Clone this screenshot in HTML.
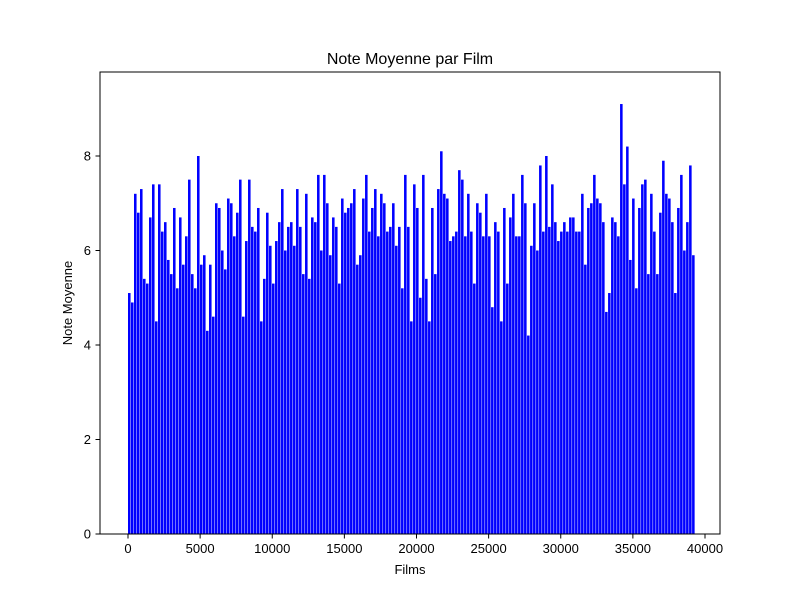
<!DOCTYPE html>
<html><head><meta charset="utf-8"><style>
body{margin:0;background:#fff;}
svg text{font-family:"Liberation Sans","DejaVu Sans",sans-serif;fill:#000;}
</style></head><body>
<svg id="chart" width="800" height="600" xmlns="http://www.w3.org/2000/svg">
<rect width="800" height="600" fill="#fff"/>
<g id="bars"></g>
<rect x="100" y="72" width="620" height="462" fill="none" stroke="#000" stroke-width="1"/>
<g id="axes"></g>
<text x="410" y="64" text-anchor="middle" font-size="16">Note Moyenne par Film</text>
<text x="410" y="574" text-anchor="middle" font-size="13">Films</text>
<text x="72" y="303" text-anchor="middle" font-size="13" transform="rotate(-90 72 303)">Note Moyenne</text>
</svg>
<script>
const filmStep = 208;
const ratings = [5.1,4.9,7.2,6.8,7.3,5.4,5.3,6.7,7.4,4.5,7.4,6.4,6.6,5.8,5.5,6.9,5.2,6.7,5.7,6.3,7.5,5.5,5.2,8.0,5.7,5.9,4.3,5.7,4.6,7.0,6.9,6.0,5.6,7.1,7.0,6.3,6.8,7.5,4.6,6.2,7.5,6.5,6.4,6.9,4.5,5.4,6.8,6.1,5.3,6.2,6.6,7.3,6.0,6.5,6.6,6.1,7.3,6.5,5.5,7.2,5.4,6.7,6.6,7.6,6.0,7.6,7.0,5.9,6.7,6.5,5.3,7.1,6.8,6.9,7.0,7.3,5.7,5.9,7.1,7.6,6.4,6.9,7.3,6.3,7.2,7.0,6.4,6.5,7.0,6.1,6.5,5.2,7.6,6.5,4.5,
7.4,6.9,5.0,7.6,5.4,4.5,6.9,5.5,7.3,8.1,7.2,7.1,6.2,6.3,6.4,7.7,7.5,6.3,7.2,6.4,5.3,7.0,6.8,6.3,7.2,6.3,4.8,6.6,6.4,4.5,6.9,5.3,6.7,7.2,6.3,6.3,7.6,7.0,4.2,6.1,7.0,6.0,7.8,6.4,8.0,6.5,7.4,6.6,6.2,6.4,6.6,6.4,6.7,6.7,6.4,6.4,7.2,5.7,6.9,7.0,7.6,7.1,7.0,6.6,4.7,5.1,6.7,6.6,6.3,9.1,7.4,8.2,5.8,7.1,5.2,6.9,7.4,7.5,5.5,7.2,6.4,5.5,6.8,7.9,7.2,7.1,6.6,5.1,6.9,7.6,6.0,6.6,7.8,5.9];
const xTicks = [0,5000,10000,15000,20000,25000,30000,35000,40000];
const yTicks = [0,2,4,6,8];
const xScale = v => 128 + v * 0.014425;
const yScale = v => 534 - v * 47.25;
const NS = "http://www.w3.org/2000/svg";
const bars = document.getElementById('bars');
const axes = document.getElementById('axes');
ratings.forEach((r, i) => {
  const id = i * filmStep;
  const rect = document.createElementNS(NS, 'rect');
  const x0 = xScale(id), x1 = xScale(id + filmStep);
  rect.setAttribute('x', x0);
  rect.setAttribute('width', (x1 - x0) * 0.85);
  rect.setAttribute('y', yScale(r));
  rect.setAttribute('height', yScale(0) - yScale(r));
  rect.setAttribute('fill', '#0000ff');
  
  
  bars.appendChild(rect);
});
xTicks.forEach(t => {
  const x = xScale(t);
  const l = document.createElementNS(NS, 'line');
  l.setAttribute('x1', x); l.setAttribute('x2', x);
  l.setAttribute('y1', 534); l.setAttribute('y2', 538.5);
  l.setAttribute('stroke', '#000');
  
  
  axes.appendChild(l);
  const tx = document.createElementNS(NS, 'text');
  tx.setAttribute('x', x); tx.setAttribute('y', 553);
  tx.setAttribute('text-anchor', 'middle'); tx.setAttribute('font-size', '13');
  tx.textContent = t;
  
  
  axes.appendChild(tx);
});
yTicks.forEach(t => {
  const y = yScale(t);
  const l = document.createElementNS(NS, 'line');
  l.setAttribute('x1', 95.5); l.setAttribute('x2', 100);
  l.setAttribute('y1', y); l.setAttribute('y2', y);
  l.setAttribute('stroke', '#000');
  
  
  axes.appendChild(l);
  const tx = document.createElementNS(NS, 'text');
  tx.setAttribute('x', 91); tx.setAttribute('y', y + 4.5);
  tx.setAttribute('text-anchor', 'end'); tx.setAttribute('font-size', '13');
  tx.textContent = t;
  
  
  axes.appendChild(tx);
});
</script>
</body></html>
